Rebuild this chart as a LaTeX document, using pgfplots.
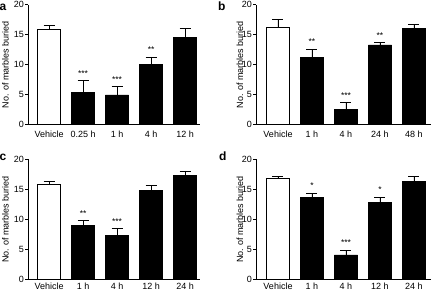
\documentclass[border=0pt]{standalone}
\usepackage{fontspec}
\setmainfont{Liberation Sans}
\usepackage{pgfplots}
\pgfplotsset{compat=1.18}
\tikzset{star/.style={font=\fontsize{8.5}{9}\selectfont, anchor=base, yshift=4.4pt, inner sep=0pt}}
\pgfplotsset{
 panel/.style={
   x=34pt, y=6pt, ymin=0, ymax=20,
   axis x line*=bottom, axis y line*=left,
   axis line style={line width=0.7pt},
   ytick={0,5,10,15,20},
   xtick={0,...,4},
   tick align=outside,
   major tick length=3pt,
   tick style={line width=0.7pt, black},
   xtick style={draw=none},
   /pgf/number format/assume math mode=true,
   ticklabel style={font=\fontsize{9}{10}\selectfont},
   yticklabel style={inner xsep=1pt},
   ylabel={No. of marbles buried},
   ylabel style={font=\fontsize{9}{10}\selectfont, anchor=center},
   clip=false,
   anchor=south west,
 },
 bottomrow/.style={xticklabel style={yshift=3.4pt}},
 bars/.style={ybar, bar width=23.3pt, bar shift=0pt, draw=black, line width=0.6pt,
   error bars/y dir=plus, error bars/y explicit,
   error bars/error bar style={black, line width=0.6pt},
   error bars/error mark options={black, rotate=90, mark size=5.5pt, line width=0.6pt}},
}
\begin{document}
\begin{tikzpicture}
\useasboundingbox (0,0) rectangle (437pt,291pt);
% panel a
\begin{axis}[panel, at={(28pt,166.3pt)}, xmin=-0.62, xmax=4.44,
  xticklabels={Vehicle,0.25 h,1 h,4 h,12 h},
  ylabel style={at={(axis description cs:-0.132,0.5)}}]
\addplot[fill=white, bars] coordinates {(0,15.9) +- (0,0.65)};
\addplot[fill=black, bars] coordinates {(1,5.4) +- (0,1.95) (2,4.95) +- (0,1.4) (3,10.1) +- (0,1.2) (4,14.5) +- (0,1.55)};
\node[star] at (axis cs:1,7.35) {***};
\node[star] at (axis cs:2,6.35) {***};
\node[star] at (axis cs:3,11.3) {**};
\end{axis}
% panel b
\begin{axis}[panel, at={(256pt,166.3pt)}, xmin=-0.647, xmax=4.5,
  xticklabels={Vehicle,1 h,4 h,24 h,48 h},
  ylabel style={at={(axis description cs:-0.092,0.5)}}]
\addplot[fill=white, bars] coordinates {(0,16.3) +- (0,1.3)};
\addplot[fill=black, bars] coordinates {(1,11.2) +- (0,1.35) (2,2.6) +- (0,1.1) (3,13.3) +- (0,0.35) (4,16.1) +- (0,0.65)};
\node[star] at (axis cs:1,12.55) {**};
\node[star] at (axis cs:2,3.7) {***};
\node[star] at (axis cs:3,13.65) {**};
\end{axis}
% panel c
\begin{axis}[panel, bottomrow, at={(28pt,11.5pt)}, xmin=-0.62, xmax=4.44,
  xticklabels={Vehicle,1 h,4 h,12 h,24 h},
  ylabel style={at={(axis description cs:-0.132,0.5)}}]
\addplot[fill=white, bars] coordinates {(0,15.8) +- (0,0.5)};
\addplot[fill=black, bars] coordinates {(1,9.0) +- (0,0.8) (2,7.4) +- (0,1.1) (3,14.9) +- (0,0.75) (4,17.4) +- (0,0.7)};
\node[star] at (axis cs:1,9.8) {**};
\node[star] at (axis cs:2,8.5) {***};
\end{axis}
% panel d
\begin{axis}[panel, bottomrow, at={(256pt,11.5pt)}, xmin=-0.647, xmax=4.5,
  xticklabels={Vehicle,1 h,4 h,12 h,24 h},
  ylabel style={at={(axis description cs:-0.092,0.5)}}]
\addplot[fill=white, bars] coordinates {(0,16.8) +- (0,0.4)};
\addplot[fill=black, bars] coordinates {(1,13.7) +- (0,0.7) (2,4.1) +- (0,0.75) (3,12.9) +- (0,0.8) (4,16.4) +- (0,0.8)};
\node[star] at (axis cs:1,14.4) {*};
\node[star] at (axis cs:2,4.85) {***};
\node[star] at (axis cs:3,13.7) {*};
\end{axis}
\node[anchor=base west, inner sep=0pt, font=\fontsize{12}{12}\selectfont\bfseries] at (-0.5pt,280.3pt) {a};
\node[anchor=base west, inner sep=0pt, font=\fontsize{12}{12}\selectfont\bfseries] at (218pt,280.3pt) {b};
\node[anchor=base west, inner sep=0pt, font=\fontsize{12}{12}\selectfont\bfseries] at (-0.5pt,130pt) {c};
\node[anchor=base west, inner sep=0pt, font=\fontsize{12}{12}\selectfont\bfseries] at (219pt,130pt) {d};
\end{tikzpicture}
\end{document}
